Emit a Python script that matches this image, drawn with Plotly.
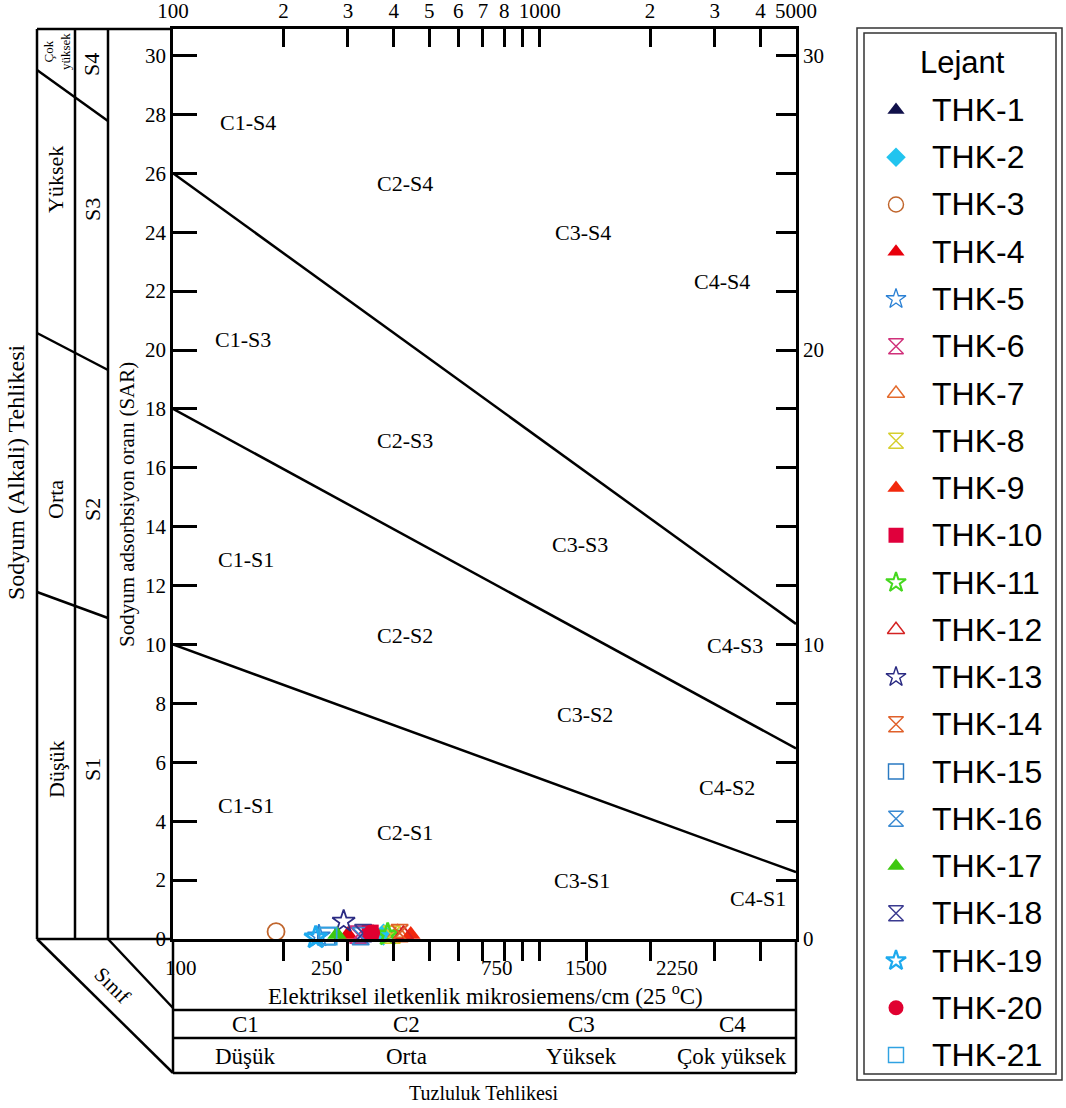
import math
import plotly.graph_objects as go

W, H = 1066, 1108
PL, PR, PT, PB = 173, 796, 29, 939   # plot area in pixels

def px(x):
    return x / W

def py(y):
    return 1 - y / H

SERIF = "Liberation Serif"
SANS = "Liberation Sans"

# ---------------- data ----------------
samples = ["THK-%d" % i for i in range(1, 22)]
ec = [352, 375, 191, 300, 250, 320, 410, 395, 445, 345, 385,
      425, 292, 415, 262, 325, 280, 330, 245, 348, 265]
sar = [0.2, 0.15, 0.25, 0.15, 0.1, 0.15, 0.2, 0.15, 0.15, 0.2, 0.15,
       0.15, 0.6, 0.2, 0.1, 0.1, 0.15, 0.2, 0.05, 0.2, 0.1]
symbols = ["triangle-up", "diamond", "circle-open", "triangle-up", "star-open",
           "hourglass-open", "triangle-up-open", "hourglass-open", "triangle-up",
           "square", "star-open", "triangle-up-open", "star-open", "hourglass-open",
           "square-open", "hourglass-open", "triangle-up", "hourglass-open",
           "star-open", "circle", "square-open"]
colors = ["#10104a", "#22c4ef", "#c0652c", "#e8000c", "#2a80d4",
          "#d0307a", "#e36a2c", "#d6cf2e", "#f2280c", "#e0003c",
          "#45d81e", "#d42222", "#2a2a82", "#e0602a", "#2a7ac2",
          "#3a8ad2", "#3ec810", "#3a3a90", "#1eaaee", "#e00030", "#30a2e2"]
line_w = [0, 0, 1.8, 0, 1.6, 1.8, 1.8, 1.8, 0, 0, 2.6,
          1.8, 1.8, 1.8, 1.8, 1.8, 0, 1.8, 2.8, 0, 1.8]

# class boundaries
ec_bounds = [250, 750, 2250]
sar_at_100 = [26, 18, 10]
sar_at_5000 = [10.7, 6.47, 2.27]
EC_MIN, EC_MAX = 100, 5000
SAR_MAX = 30.9

# region labels
region_labels = ["C1-S4", "C2-S4", "C3-S4", "C4-S4",
                 "C1-S3", "C2-S3", "C3-S3", "C4-S3",
                 "C1-S1", "C2-S2", "C3-S2", "C4-S2",
                 "C1-S1", "C2-S1", "C3-S1", "C4-S1"]
region_ec = [160, 429, 1313, 3141, 155, 429, 1288, 3409,
             158, 429, 1329, 3242, 158, 429, 1305, 3938]
region_sar = [27.74, 25.67, 24.0, 22.34, 20.34, 16.94, 13.38, 9.98,
              12.87, 10.32, 7.61, 5.16, 4.55, 3.6, 2.0, 1.39]

# axes ticks
top_tick_vals = [100, 200, 300, 400, 500, 600, 700, 800, 1000, 2000, 3000, 4000, 5000]
top_tick_text = ["100", "2", "3", "4", "5", "6", "7", "8", "1000", "2", "3", "4", "5000"]
top_minor_vals = [900]
bottom_tick_vals = [200, 300, 400, 500, 600, 700, 800, 900, 1000, 1340, 2000, 3000, 4000]
bottom_label_vals = [100, 250, 750, 1340, 2250]
bottom_label_text = ["100", "250", "750", "1500", "2250"]
bottom_label_shift = [8, 8, 3, 0, 8]
sar_ticks = list(range(0, 31, 2))
right_label_vals = [0, 10, 20, 30]
right_minor_vals = [v for v in sar_ticks if v not in right_label_vals]

salinity_classes = ["C1", "C2", "C3", "C4"]
salinity_names = ["Düşük", "Orta", "Yüksek", "Çok yüksek"]

fig = go.Figure()

# boundary lines
for a, b_ in zip(sar_at_100, sar_at_5000):
    fig.add_trace(go.Scatter(x=[EC_MIN, EC_MAX], y=[a, b_], mode="lines",
                             line=dict(color="black", width=2.5),
                             showlegend=False, hoverinfo="skip"))

# samples
for i, name in enumerate(samples):
    fig.add_trace(go.Scatter(
        x=[ec[i]], y=[sar[i]], mode="markers", name=name, showlegend=False,
        cliponaxis=False,
        marker=dict(symbol=symbols[i], size=17, color=colors[i],
                    line=dict(color=colors[i], width=line_w[i] if line_w[i] else 0))))

# manual legend on its own axes
LEG_X0, LEG_X1, LEG_Y0, LEG_Y1 = 864, 1056, 33, 1074
step = 47.25
first = 110
t = 1 + (LEG_Y0 - first) / step
b = 1 + (LEG_Y1 - first) / step
for i, name in enumerate(samples):
    fig.add_trace(go.Scatter(
        x=[32], y=[i + 1], mode="markers", showlegend=False, hoverinfo="skip",
        xaxis="x3", yaxis="y3", cliponaxis=False,
        marker=dict(symbol=symbols[i], size=15, color=colors[i],
                    line=dict(color=colors[i], width=(line_w[i] * 0.8) if line_w[i] else 0))))

annotations = []
for i, name in enumerate(samples):
    annotations.append(dict(x=66, y=i + 1, xref="x3", yref="y3", text=name,
                            showarrow=False, xanchor="left", yanchor="middle",
                            font=dict(family=SANS, size=32, color="black")))
annotations.append(dict(x=px(962), y=py(62), xref="paper", yref="paper", text="Lejant",
                        showarrow=False, xanchor="center", yanchor="middle",
                        font=dict(family=SANS, size=31, color="black")))

# region labels
for t_, x_, y_ in zip(region_labels, region_ec, region_sar):
    annotations.append(dict(x=math.log10(x_), y=y_, xref="x", yref="y", text=t_,
                            showarrow=False, xanchor="center", yanchor="middle",
                            font=dict(family=SERIF, size=22, color="black")))

# bottom axis labels
for v, s, sh in zip(bottom_label_vals, bottom_label_text, bottom_label_shift):
    annotations.append(dict(x=math.log10(v), y=py(968), xref="x", yref="paper", text=s,
                            xshift=sh, showarrow=False, xanchor="center", yanchor="middle",
                            font=dict(family=SERIF, size=21, color="black")))

annotations.append(dict(x=px(485), y=py(994), xref="paper", yref="paper",
                        text="Elektriksel iletkenlik mikrosiemens/cm (25 <sup>o</sup>C)",
                        showarrow=False, xanchor="center", yanchor="middle",
                        font=dict(family=SERIF, size=23, color="black")))
annotations.append(dict(x=px(484), y=py(1093), xref="paper", yref="paper",
                        text="Tuzluluk Tehlikesi", showarrow=False,
                        xanchor="center", yanchor="middle",
                        font=dict(family=SERIF, size=20, color="black")))

# table text
cell_edges = [EC_MIN] + ec_bounds + [EC_MAX]
for k in range(4):
    xc = (math.log10(cell_edges[k]) + math.log10(cell_edges[k + 1])) / 2
    annotations.append(dict(x=xc, y=py(1024), xref="x", yref="paper", text=salinity_classes[k],
                            showarrow=False, xanchor="center", yanchor="middle",
                            font=dict(family=SERIF, size=23, color="black")))
    annotations.append(dict(x=xc, y=py(1056), xref="x", yref="paper", text=salinity_names[k],
                            showarrow=False, xanchor="center", yanchor="middle",
                            font=dict(family=SERIF, size=23, color="black")))

# left column texts
def rot(txt, x, y, size=21, angle=-90):
    annotations.append(dict(x=px(x), y=py(y), xref="paper", yref="paper", text=txt,
                            showarrow=False, xanchor="center", yanchor="middle",
                            textangle=angle, font=dict(family=SERIF, size=size, color="black")))

rot("Sodyum (Alkali) Tehlikesi", 16, 472, 24)
rot("Sodyum adsorbsiyon oranı (SAR)", 127, 505, 21)
rot("Çok<br>yüksek", 57, 52, 13)
rot("Yüksek", 56, 180, 22)
rot("Orta", 56, 500, 22)
rot("Düşük", 56, 770, 22)
rot("S4", 92, 65, 22)
rot("S3", 92, 210, 22)
rot("S2", 92, 510, 22)
rot("S1", 92, 770, 22)
rot("Sınıf", 112, 985, 21, 45)

# shapes
LW = 2.5
shapes = []
def pline(x0, y0, x1, y1, w=LW):
    shapes.append(dict(type="line", xref="paper", yref="paper",
                       x0=px(x0), y0=py(y0), x1=px(x1), y1=py(y1),
                       line=dict(color="black", width=w)))

for xv in (37, 75, 108):
    pline(xv, PT, xv, PB)
pline(37, PT, PL, PT)
pline(37, PB, PL, PB)
pline(37, 70, 108, 121)
pline(37, 333, 108, 370)
pline(37, 592, 108, 618)
pline(37, PB, PL, 1073)
pline(108, PB, PL, 1008)
pline(PL, PB, PL, 1073)
pline(PR, PB, PR, 1073)
for yv in (1010, 1038, 1073):
    pline(PL, yv, PR, yv)
for v in ec_bounds:
    shapes.append(dict(type="line", xref="x", yref="y domain", x0=math.log10(v), x1=math.log10(v),
                       y0=0, y1=1, line=dict(color="black", width=LW)))
    shapes.append(dict(type="line", xref="x", yref="paper", x0=math.log10(v), x1=math.log10(v),
                       y0=py(1010), y1=py(1073), line=dict(color="black", width=LW)))

# legend double frame
shapes.append(dict(type="rect", xref="paper", yref="paper", x0=px(857), y0=py(1080),
                   x1=px(1062), y1=py(28), line=dict(color="#333", width=1.5)))
shapes.append(dict(type="rect", xref="paper", yref="paper", x0=px(LEG_X0), y0=py(LEG_Y1),
                   x1=px(LEG_X1), y1=py(LEG_Y0), line=dict(color="#333", width=1.5)))

xdom = [px(PL), px(PR)]
ydom = [py(PB), py(PT)]
axis_font = dict(family=SERIF, size=21, color="black")
xr = [math.log10(EC_MIN), math.log10(EC_MAX)]

fig.update_layout(
    width=W, height=H, margin=dict(l=0, r=0, t=0, b=0, pad=0, autoexpand=False),
    paper_bgcolor="white", plot_bgcolor="white", showlegend=False,
    font=dict(family=SERIF, color="black"),
    xaxis=dict(type="log", range=xr, domain=xdom, anchor="y", automargin=False,
               showline=True, linewidth=LW, linecolor="black",
               ticks="outside", ticklen=19, tickwidth=LW, tickcolor="black",
               tickvals=bottom_tick_vals, showticklabels=False,
               showgrid=False, zeroline=False),
    xaxis2=dict(type="log", range=xr, domain=xdom, anchor="y", overlaying="x", side="top",
                automargin=False,
                showline=True, linewidth=LW, linecolor="black",
                ticks="inside", ticklen=18, tickwidth=LW, tickcolor="black",
                tickvals=top_tick_vals, ticktext=top_tick_text, tickfont=axis_font,
                minor=dict(tickvals=top_minor_vals, ticks="inside", ticklen=18,
                           tickwidth=LW, tickcolor="black", showgrid=False),
                showgrid=False, zeroline=False),
    yaxis=dict(range=[0, SAR_MAX], domain=ydom, anchor="x", automargin=False,
               showline=True, linewidth=LW, linecolor="black",
               ticks="inside", ticklen=24, tickwidth=LW, tickcolor="black",
               tickvals=sar_ticks, tickfont=axis_font,
               showgrid=False, zeroline=False),
    yaxis2=dict(range=[0, SAR_MAX], domain=ydom, anchor="x", overlaying="y", side="right",
                automargin=False,
                showline=True, linewidth=LW, linecolor="black",
                ticks="inside", ticklen=20, tickwidth=LW, tickcolor="black",
                tickvals=right_label_vals, tickfont=axis_font,
                minor=dict(tickvals=right_minor_vals, ticks="inside", ticklen=20,
                           tickwidth=LW, tickcolor="black", showgrid=False),
                showgrid=False, zeroline=False),
    xaxis3=dict(domain=[px(LEG_X0), px(LEG_X1)], range=[0, LEG_X1 - LEG_X0], anchor="y3",
                visible=False, fixedrange=True),
    yaxis3=dict(domain=[py(LEG_Y1), py(LEG_Y0)], range=[b, t], anchor="x3",
                visible=False, fixedrange=True),
    annotations=annotations, shapes=shapes,
)
# invisible trace so that the top/right axes render
fig.add_trace(go.Scatter(x=[EC_MIN], y=[0], xaxis="x2", yaxis="y2", mode="markers",
                         marker=dict(opacity=0), showlegend=False, hoverinfo="skip"))

fig.write_html("out.html")
